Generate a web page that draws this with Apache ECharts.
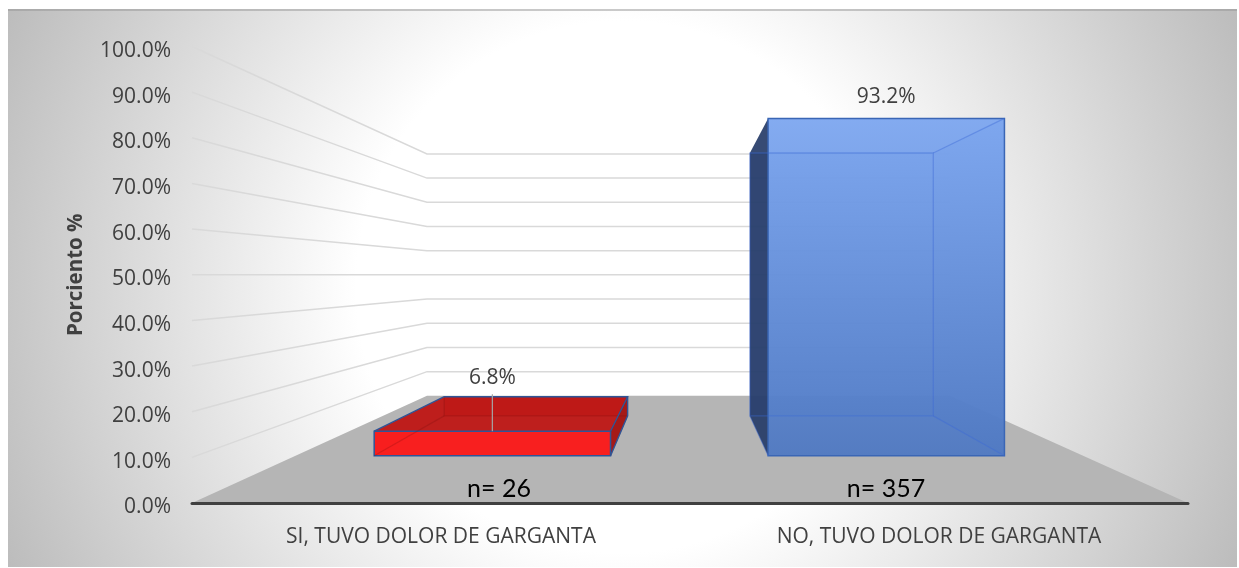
<!DOCTYPE html>
<html><head><meta charset="utf-8">
<style>html,body{margin:0;padding:0;background:#fff}#c{width:1239px;height:568px}</style>
<script src="https://cdn.jsdelivr.net/npm/echarts@6/dist/echarts.min.js"></script>
</head><body><div id="c"></div>
<script>
const categories = ['SI, TUVO DOLOR DE GARGANTA', 'NO, TUVO DOLOR DE GARGANTA'];
const percentValues = [6.8, 93.2];
const sampleLabels = ['n= 26', 'n= 357'];
const yTicks = [0, 10, 20, 30, 40, 50, 60, 70, 80, 90, 100];

const VX = 686.7, VY = 275, KX = 0.475, KY = 0.47;
const T_FRONT = 0.44, T_BACK = 0.813, BAR_RATIO = 0.6;
function proj(p, t) {
  return [VX + (p[0] - VX) * (1 - KX * t), VY + (p[1] - VY) * (1 - KY * t)];
}
function poly(points, fill, stroke, lw) {
  return { type: 'polygon', shape: { points }, style: { fill, stroke: stroke || 'none', lineWidth: lw || 0 } };
}
function line(points, stroke, lw) {
  return { type: 'polyline', shape: { points }, style: { fill: 'none', stroke, lineWidth: lw } };
}
const BAR_STYLE = [
  { front: 'rgba(250,26,26,0.97)', back: '#b91b18', top: 'rgba(190,26,24,0.97)', left: 'rgba(170,24,22,0.2)', right: '#a51a18',
    edge: '#2f5597', outer: '#2f5597', ghost: 'rgba(110,15,15,0.22)', leftOnTop: false, lift: 53, leader: 37 },
  { front: { type: 'linear', x: 0, y: 0, x2: 0, y2: 1, colorStops: [{ offset: 0, color: 'rgba(124,166,240,0.94)' }, { offset: 1, color: 'rgba(78,120,194,0.94)' }] },
    back: 'rgba(90,135,215,0.5)', top: 'rgba(0,0,0,0)', left: 'rgba(38,60,104,0.92)', right: 'rgba(90,135,215,0.5)',
    edge: '#3a66b5', outer: 'rgba(0,0,0,0)', ghost: 'rgba(60,105,215,0.42)', leftOnTop: true, lift: 21, leader: 0 }
];
function renderFloor(params, api) {
  const half = api.size([1, 0])[0] / 2;
  const L = api.coord([0, 0]), R = api.coord([1, 0]);
  const fl = [L[0] - half, L[1]], fr = [R[0] + half, R[1]];
  return poly([fl, fr, proj(fr, 1), proj(fl, 1)], '#b5b5b5');
}
function renderWall(params, api) {
  const half = api.size([1, 0])[0] / 2;
  const v = api.value(1);
  const L = api.coord([0, v]), R = api.coord([1, v]);
  const fl = [L[0] - half, L[1]], fr = [R[0] + half, R[1]];
  return line([fl, proj(fl, 1), proj(fr, 1)], '#d9d9d9', 1.5);
}
function renderBar(params, api) {
  const i = api.value(0), v = api.value(1), st = BAR_STYLE[i];
  const half = api.size([1, 0])[0] * BAR_RATIO / 2;
  const c0 = api.coord([i, 0]), c1 = api.coord([i, v]);
  const bl = [c0[0] - half, c0[1]], br = [c0[0] + half, c0[1]];
  const tl = [c1[0] - half, c1[1]], tr = [c1[0] + half, c1[1]];
  const F = { bl: proj(bl, T_FRONT), br: proj(br, T_FRONT), tl: proj(tl, T_FRONT), tr: proj(tr, T_FRONT) };
  const B = { bl: proj(bl, T_BACK), br: proj(br, T_BACK), tl: proj(tl, T_BACK), tr: proj(tr, T_BACK) };
  const cx = (F.tl[0] + F.tr[0]) / 2;
  const leftFace = poly([F.bl, F.tl, B.tl, B.bl], st.left, 'none', 0);
  const topFace = poly([F.tl, F.tr, B.tr, B.tl], st.top, 'none', 0);
  const children = [
    poly([B.bl, B.br, B.tr, B.tl], st.back),
    poly([F.br, F.tr, B.tr, B.br], st.right),
    st.leftOnTop ? topFace : leftFace,
    st.leftOnTop ? leftFace : topFace,
    poly([F.bl, F.br, F.tr, F.tl], st.front, st.edge, 1.5),
    poly([B.bl, B.br, B.tr, B.tl], 'none', st.ghost, 1.3),
    line([F.bl, B.bl], st.ghost, 1.2),
    line([F.br, B.br], st.ghost, 1.2),
    line([F.tr, B.tr], st.ghost, 1.2),
    line([F.tl, B.tl, B.tr, F.tr], st.leftOnTop ? 'rgba(0,0,0,0)' : st.edge, 1.4),
    line([B.tr, B.br, F.br], st.outer, 1.4),
    { type: 'text', style: { x: cx, y: F.tl[1] - st.lift, text: api.value(1).toFixed(1) + '%', fill: '#404040',
        font: '21px "Open Sans"', align: 'center', verticalAlign: 'middle' } }
  ];
  if (st.leader) children.push(line([[cx, F.tl[1]], [cx, F.tl[1] - st.leader]], '#a6a6a6', 1.2));
  return { type: 'group', children };
}
const chart = echarts.init(document.getElementById('c'), null, { renderer: 'canvas' });
chart.setOption({
  animation: false,
  backgroundColor: '#ffffff',
  graphic: [
    { type: 'rect', z: -10, shape: { x: 8, y: 9, width: 1229, height: 558 },
      style: { fill: { type: 'radial', x: 622, y: 287, r: 700, global: true,
          colorStops: [{ offset: 0, color: '#ffffff' }, { offset: 0.38, color: '#ffffff' }, { offset: 1, color: '#b8b8b8' }] } } },
    { type: 'rect', z: -9, shape: { x: 8, y: 9, width: 1229, height: 2 }, style: { fill: 'rgba(150,150,150,0.5)' } },
    { type: 'text', z: 10, style: { x: 499, y: 489, text: sampleLabels[0], font: '25px Lato', fill: '#000', align: 'center', verticalAlign: 'middle' } },
    { type: 'text', z: 10, style: { x: 886, y: 489, text: sampleLabels[1], font: '25px Lato', fill: '#000', align: 'center', verticalAlign: 'middle' } }
  ],
  grid: { left: 192, right: 51, top: 46.5, bottom: 65 },
  xAxis: { type: 'category', data: categories, z: 6,
    axisLine: { lineStyle: { color: '#404040', width: 3, cap: 'round' } }, axisTick: { show: false },
    axisLabel: { color: '#404040', fontFamily: 'Open Sans', fontSize: 21, margin: 23.5 } },
  yAxis: { type: 'value', min: 0, max: 100, interval: 10, z: 6,
    name: 'Porciento %', nameLocation: 'middle', nameGap: 105,
    nameTextStyle: { color: '#404040', fontFamily: 'Open Sans', fontWeight: 'bold', fontSize: 20.5 },
    axisLine: { show: false }, axisTick: { show: false }, splitLine: { show: false },
    axisLabel: { color: '#404040', fontFamily: 'Open Sans', fontSize: 21, margin: 21, verticalAlign: 'top', lineHeight: 9,
      formatter: v => v.toFixed(1) + '%' } },
  series: [
    { type: 'custom', z: 1, clip: false, coordinateSystem: 'cartesian2d', renderItem: renderFloor, data: [[0, 0]], encode: { x: 0, y: 1 } },
    { type: 'custom', z: 2, clip: false, coordinateSystem: 'cartesian2d', renderItem: renderWall, data: yTicks.slice(1).map(v => [0, v]), encode: { x: 0, y: 1 } },
    { type: 'custom', z: 3, clip: false, coordinateSystem: 'cartesian2d', renderItem: renderBar, data: percentValues.map((v, i) => [i, v]), encode: { x: 0, y: 1 } }
  ]
});
</script></body></html>
